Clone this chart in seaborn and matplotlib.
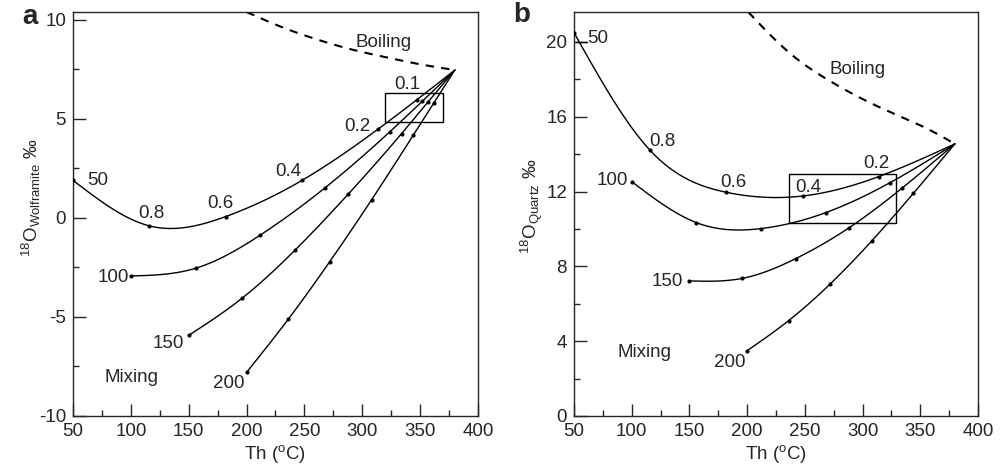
import numpy as np
import pandas as pd
import matplotlib
matplotlib.use("Agg")
import matplotlib.pyplot as plt
from matplotlib.patches import Rectangle
from matplotlib.ticker import MultipleLocator
import seaborn as sns

# panel a: wolframite, dots at mixing fractions 1, 0.8, 0.6, 0.4, 0.2, 0.1, 0
a_T50 = [50, 116, 182, 248, 314, 347, 380]
a_d50 = [1.9, -0.4, 0.07, 1.9, 4.5, 5.96, 7.47]
a_T100 = [100, 156, 212, 268, 324, 352, 380]
a_d100 = [-2.93, -2.54, -0.86, 1.53, 4.36, 5.9, 7.47]
a_T150 = [150, 196, 242, 288, 334, 357, 380]
a_d150 = [-5.93, -4.06, -1.62, 1.21, 4.26, 5.87, 7.47]
a_T200 = [200, 236, 272, 308, 344, 362, 380]
a_d200 = [-7.8, -5.12, -2.2, 0.91, 4.17, 5.82, 7.47]
a_boil_T = [200, 230, 260, 290, 320, 350, 380]
a_boil_d = [10.4, 9.65, 9.03, 8.52, 8.12, 7.76, 7.47]

# panel b: quartz, dots at mixing fractions 1, 0.8, 0.6, 0.4, 0.2, 0
b_T50 = [50, 116, 182, 248, 314, 380]
b_d50 = [20.5, 14.2, 11.96, 11.76, 12.8, 14.55]
b_T100 = [100, 156, 212, 268, 324, 380]
b_d100 = [12.53, 10.34, 10.02, 10.87, 12.48, 14.55]
b_T150 = [150, 196, 242, 288, 334, 380]
b_d150 = [7.22, 7.36, 8.41, 10.05, 12.17, 14.55]
b_T200 = [200, 236, 272, 308, 344, 380]
b_d200 = [3.49, 5.1, 7.06, 9.36, 11.9, 14.55]
b_boil_T = [201, 237, 272, 315, 358, 380]
b_boil_d = [21.6, 19.4, 17.9, 16.5, 15.3, 14.55]


def smooth(x, y, n=300):
    """natural cubic spline through the points, only used for drawing"""
    x = np.asarray(x, float)
    y = np.asarray(y, float)
    m = len(x)
    h = np.diff(x)
    A = np.zeros((m, m))
    r = np.zeros(m)
    A[0, 0] = A[-1, -1] = 1
    for i in range(1, m - 1):
        A[i, i - 1] = h[i - 1]
        A[i, i] = 2 * (h[i - 1] + h[i])
        A[i, i + 1] = h[i]
        r[i] = 3 * ((y[i + 1] - y[i]) / h[i] - (y[i] - y[i - 1]) / h[i - 1])
    c = np.linalg.solve(A, r)
    b = (y[1:] - y[:-1]) / h - h * (2 * c[:-1] + c[1:]) / 3
    d = (c[1:] - c[:-1]) / (3 * h)
    xs = np.linspace(x[0], x[-1], n)
    k = np.clip(np.searchsorted(x, xs) - 1, 0, m - 2)
    dx = xs - x[k]
    return xs, y[k] + b[k] * dx + c[k] * dx ** 2 + d[k] * dx ** 3


sns.set_style("ticks")
plt.rcParams["font.family"] = ["Liberation Sans", "DejaVu Sans"]
plt.rcParams["mathtext.fontset"] = "custom"
plt.rcParams["mathtext.rm"] = "Liberation Sans"
plt.rcParams["mathtext.it"] = "Liberation Sans:italic"
plt.rcParams["axes.unicode_minus"] = False

fig = plt.figure(figsize=(10.05, 4.71), dpi=100)
ax1 = fig.add_axes([0.0726, 0.1168, 0.403, 0.8577])
ax2 = fig.add_axes([0.5711, 0.1168, 0.402, 0.8577])


def draw_panel(ax, curves, boil):
    for T, d in curves:
        xs, ys = smooth(T, d)
        sns.lineplot(x=xs, y=ys, ax=ax, color="black", lw=1.0, sort=False, estimator=None)
        sns.scatterplot(x=T[:-1], y=d[:-1], ax=ax, color="black", s=9, linewidth=0, zorder=5)
    xs, ys = smooth(*boil)
    sns.lineplot(x=xs, y=ys, ax=ax, color="black", lw=1.5, sort=False, estimator=None)
    ax.lines[-1].set_linestyle((0, (4, 3.5)))


draw_panel(ax1, [(a_T50, a_d50), (a_T100, a_d100), (a_T150, a_d150), (a_T200, a_d200)],
           (a_boil_T, a_boil_d))
draw_panel(ax2, [(b_T50, b_d50), (b_T100, b_d100), (b_T150, b_d150), (b_T200, b_d200)],
           (b_boil_T, b_boil_d))

ax1.add_patch(Rectangle((320, 4.85), 50, 1.45, fill=False, ec="black", lw=1.0, zorder=4))
ax2.add_patch(Rectangle((236, 10.34), 93, 2.58, fill=False, ec="black", lw=1.0, zorder=4))

fs = 13.5
# labels panel a
for txt, x, y in [("50", 71, 1.9), ("0.8", 118, 0.2), ("0.6", 177, 0.75), ("0.4", 236, 2.35),
                  ("0.2", 296, 4.6), ("0.1", 339, 6.75), ("Boiling", 318, 8.85),
                  ("100", 85, -3.0), ("150", 132, -6.35), ("200", 185, -8.35), ("Mixing", 101, -8.05)]:
    ax1.text(x, y, txt, fontsize=fs, ha="center", va="center")
# labels panel b
for txt, x, y in [("50", 70.5, 20.2), ("0.8", 127, 14.65), ("0.6", 188, 12.5), ("0.4", 253, 12.2),
                  ("0.2", 312, 13.5), ("Boiling", 296, 18.5),
                  ("100", 83, 12.6), ("150", 131, 7.2), ("200", 185, 2.85), ("Mixing", 111.5, 3.37)]:
    ax2.text(x, y, txt, fontsize=fs, ha="center", va="center")
ax2.plot([51.7, 61], [20.0, 20.0], color="black", lw=1.0)

ax1.set_xlim(50, 400)
ax1.set_ylim(-10, 10.4)
ax2.set_xlim(50, 400)
ax2.set_ylim(0, 21.6)
ax1.yaxis.set_major_locator(MultipleLocator(5))
ax1.yaxis.set_minor_locator(MultipleLocator(2.5))
ax2.yaxis.set_major_locator(MultipleLocator(4))
ax2.yaxis.set_minor_locator(MultipleLocator(2))

for ax in (ax1, ax2):
    ax.xaxis.set_major_locator(MultipleLocator(50))
    ax.xaxis.set_minor_locator(MultipleLocator(25))
    ax.tick_params(which="major", direction="in", length=9, width=1.0, labelsize=fs, pad=5)
    ax.tick_params(which="minor", direction="in", length=4.5, width=1.0)
    for s in ax.spines.values():
        s.set_visible(True)
        s.set_linewidth(1.0)
    ax.set_xlabel("Th ($^{\\rm o}$C)", fontsize=fs, labelpad=2)

ax1.set_ylabel("$^{18}$O$_{\\rm Wolframite}$ ‰", fontsize=fs)
ax2.set_ylabel("$^{18}$O$_{\\rm Quartz}$ ‰", fontsize=fs)
ax1.yaxis.set_label_coords(-0.074, 0.54)
ax2.yaxis.set_label_coords(-0.072, 0.52)

fig.text(0.030, 0.963, "a", fontsize=20, fontweight="bold", ha="center", va="center")
fig.text(0.519, 0.968, "b", fontsize=20, fontweight="bold", ha="center", va="center")

fig.savefig("out.png", dpi=100)
